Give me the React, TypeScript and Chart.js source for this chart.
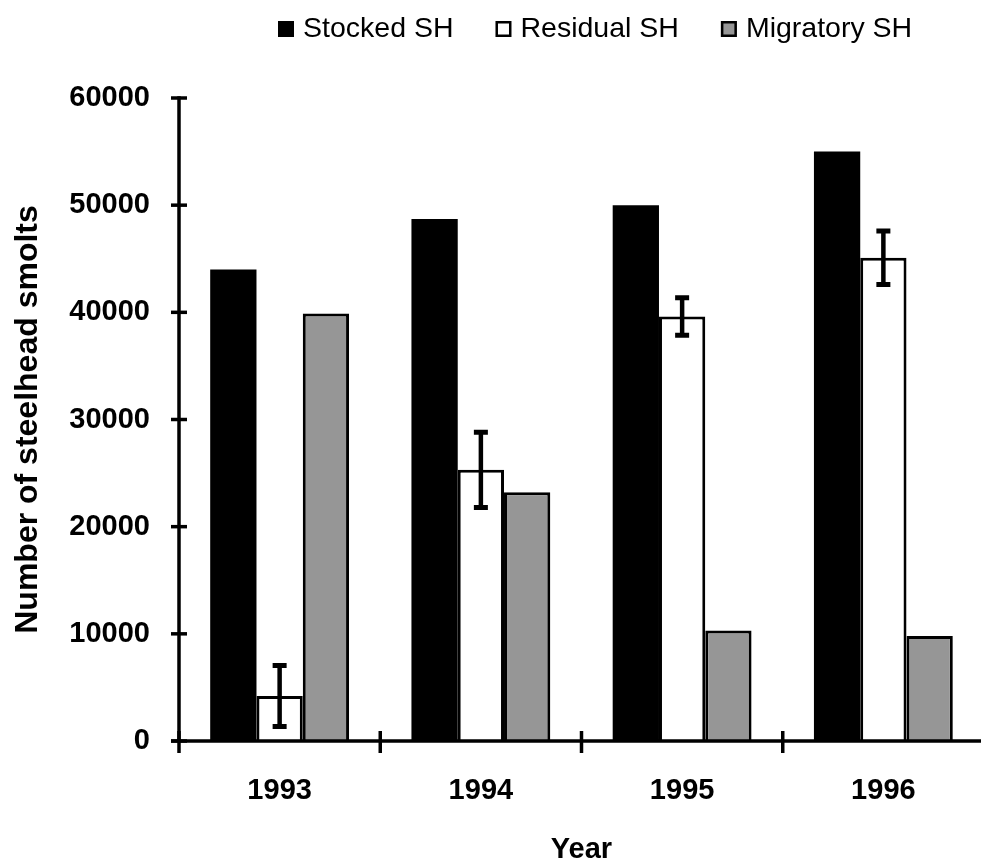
import React, { useEffect, useRef } from "react";
import { Chart, registerables } from "chart.js";

Chart.register(...registerables);

// ---- data ----
const years = ["1993", "1994", "1995", "1996"];
const seriesNames = ["Stocked SH", "Residual SH", "Migratory SH"];
const stocked = [44000, 48700, 50000, 55000];
const residual = [4200, 25300, 39600, 45100];
const residualErr = [2850, 3500, 1750, 2500];
const migratory = [39900, 23200, 10300, 9800];
const yMin = 0;
const yMax = 60000;
const yStep = 10000;
const yTitle = "Number of steelhead smolts";
const xTitle = "Year";

const FONT = "'Liberation Sans', Arial, Helvetica, sans-serif";
const GRAY = "#969696";

const axesPlugin = {
  id: "axesPlugin",
  afterDraw(chart: any) {
    const { ctx, chartArea: ca, scales } = chart;
    const x = scales.x;
    const y = scales.y;
    ctx.save();
    ctx.strokeStyle = "#000";
    ctx.lineCap = "butt";
    ctx.lineWidth = 3.5;
    const line = (x1: number, y1: number, x2: number, y2: number) => {
      ctx.beginPath();
      ctx.moveTo(x1, y1);
      ctx.lineTo(x2, y2);
      ctx.stroke();
    };
    // y axis line
    line(ca.left, y.getPixelForValue(yMax) - 1.75, ca.left, ca.bottom);
    // x axis line
    line(ca.left - 8, ca.bottom, chart.width, ca.bottom);
    // y ticks (crossing)
    y.ticks.forEach((t: any) => {
      const py = y.getPixelForValue(t.value);
      line(ca.left - 8, py, ca.left + 8, py);
    });
    // x ticks at category boundaries (crossing)
    const n = years.length;
    const w = (x.right - x.left) / n;
    for (let i = 0; i <= n; i++) {
      const px = x.left + i * w;
      line(px, ca.bottom - 10, px, ca.bottom + 12);
    }
    ctx.restore();
  },
};

const errorBarPlugin = {
  id: "errorBarPlugin",
  afterDatasetsDraw(chart: any) {
    const { ctx, scales } = chart;
    const y = scales.y;
    const meta = chart.getDatasetMeta(1);
    ctx.save();
    ctx.strokeStyle = "#000";
    ctx.lineCap = "butt";
    meta.data.forEach((el: any, i: number) => {
      const cx = el.x;
      const top = y.getPixelForValue(residual[i] + residualErr[i]);
      const bot = y.getPixelForValue(residual[i] - residualErr[i]);
      ctx.lineWidth = 4.5;
      ctx.beginPath();
      ctx.moveTo(cx, top);
      ctx.lineTo(cx, bot);
      ctx.stroke();
      ctx.lineWidth = 5;
      ctx.beginPath();
      ctx.moveTo(cx - 7, top);
      ctx.lineTo(cx + 7, top);
      ctx.moveTo(cx - 7, bot);
      ctx.lineTo(cx + 7, bot);
      ctx.stroke();
    });
    ctx.restore();
  },
};

const legendPlugin = {
  id: "customLegend",
  afterDraw(chart: any) {
    const { ctx } = chart;
    const fills = ["#000000", "#ffffff", GRAY];
    const box = 16;
    const boxGap = 9;
    const itemGap = 42;
    const baseline = 37;
    ctx.save();
    ctx.font = `normal 28.5px ${FONT}`;
    ctx.textBaseline = "alphabetic";
    ctx.textAlign = "left";
    let cx = 278;
    seriesNames.forEach((name, i) => {
      ctx.fillStyle = fills[i];
      ctx.fillRect(cx, 21, box, box);
      ctx.strokeStyle = "#000";
      ctx.lineWidth = 2.5;
      ctx.strokeRect(cx + 1.25, 22.25, box - 2.5, box - 2.5);
      cx += box + boxGap;
      ctx.fillStyle = "#000";
      ctx.fillText(name, cx, baseline);
      cx += ctx.measureText(name).width + itemGap;
    });
    ctx.restore();
  },
};

export default function App() {
  const canvasRef = useRef<HTMLCanvasElement | null>(null);

  useEffect(() => {
    if (!canvasRef.current) return;
    Chart.defaults.color = "#000";
    const tickFont = { family: FONT, size: 29, weight: "bold" as const };
    const titleFont = { family: FONT, size: 32, weight: "bold" as const };
    const chart = new Chart(canvasRef.current, {
      type: "bar",
      data: {
        labels: years,
        datasets: [
          {
            label: seriesNames[0],
            data: stocked,
            backgroundColor: "#000000",
            borderColor: "#000000",
            borderWidth: 0,
          },
          {
            label: seriesNames[1],
            data: residual,
            backgroundColor: "#ffffff",
            borderColor: "#000000",
            borderWidth: 3,
          },
          {
            label: seriesNames[2],
            data: migratory,
            backgroundColor: GRAY,
            borderColor: "#000000",
            borderWidth: 3,
          },
        ],
      },
      options: {
        animation: false,
        responsive: true,
        maintainAspectRatio: false,
        datasets: {
          bar: { categoryPercentage: 0.69, barPercentage: 1.0 },
        },
        layout: { padding: { top: 98, right: 11, left: 0, bottom: 0 } },
        plugins: {
          legend: { display: false },
          tooltip: { enabled: false },
        },
        scales: {
          x: {
            ticks: { color: "#000", font: tickFont, padding: 33 },
            grid: { display: false, drawTicks: false },
            border: { display: false },
            title: {
              display: true,
              text: xTitle,
              color: "#000",
              font: tickFont,
              padding: { top: 0, bottom: 0 },
            },
            afterFit: (s: any) => {
              s.height = 126;
            },
          },
          y: {
            min: yMin,
            max: yMax,
            ticks: {
              stepSize: yStep,
              color: "#000",
              font: tickFont,
              padding: 29,
              callback: (v: any) => String(v),
            },
            grid: { display: false, drawTicks: false },
            border: { display: false },
            title: {
              display: true,
              text: yTitle,
              color: "#000",
              font: titleFont,
              padding: { top: 9, bottom: 0 },
            },
            afterFit: (s: any) => {
              s.width = 179;
            },
          },
        },
      },
      plugins: [errorBarPlugin, axesPlugin, legendPlugin],
    });
    return () => chart.destroy();
  }, []);

  return (
    <div
      style={{
        position: "fixed",
        left: 0,
        top: 0,
        width: 981,
        height: 867,
        overflow: "hidden",
        background: "#fff",
      }}
    >
      <div style={{ position: "relative", width: 995, height: 867 }}>
        <canvas ref={canvasRef} />
      </div>
    </div>
  );
}
